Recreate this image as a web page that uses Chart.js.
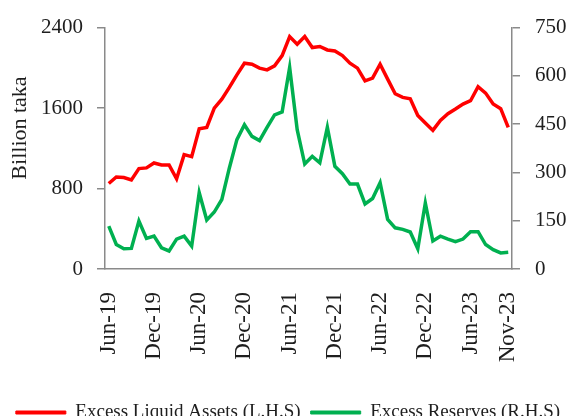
<!DOCTYPE html>
<html>
<head>
<meta charset="utf-8">
<script src="https://cdn.jsdelivr.net/npm/chart.js@4/dist/chart.umd.min.js"></script>
<style>
  html, body { margin: 0; padding: 0; background: #fff; overflow: hidden; }
  #wrap { width: 576px; height: 432px; }
</style>
</head>
<body>
<div id="wrap"><canvas id="liqChart"></canvas></div>
<script>
// months, Jun-19 .. Nov-23
const months = [
  'Jun-19','Jul-19','Aug-19','Sep-19','Oct-19','Nov-19','Dec-19','Jan-20','Feb-20','Mar-20','Apr-20','May-20',
  'Jun-20','Jul-20','Aug-20','Sep-20','Oct-20','Nov-20','Dec-20','Jan-21','Feb-21','Mar-21','Apr-21','May-21',
  'Jun-21','Jul-21','Aug-21','Sep-21','Oct-21','Nov-21','Dec-21','Jan-22','Feb-22','Mar-22','Apr-22','May-22',
  'Jun-22','Jul-22','Aug-22','Sep-22','Oct-22','Nov-22','Dec-22','Jan-23','Feb-23','Mar-23','Apr-23','May-23',
  'Jun-23','Jul-23','Aug-23','Sep-23','Oct-23','Nov-23'
];

// Excess liquid assets, billion taka (left axis)
const excessLiquid = [
  850, 915, 910, 886, 998, 1005, 1054, 1034, 1034, 896, 1137, 1117,
  1395, 1408, 1600, 1689, 1805, 1930, 2046, 2036, 1997, 1980, 2020, 2122,
  2311, 2235, 2311, 2202, 2212, 2178, 2168, 2122, 2046, 1997, 1871, 1898,
  2036, 1888, 1742, 1706, 1693, 1527, 1451, 1378, 1478, 1544, 1590, 1640,
  1673, 1812, 1749, 1640, 1594, 1408
];

// Excess reserves, billion taka (right axis)
const excessReserves = [
  133, 76, 63, 64, 149, 95, 102, 66, 56, 93, 102, 71,
  237, 152, 177, 216, 314, 402, 448, 412, 399, 440, 479, 488,
  626, 433, 326, 350, 330, 440, 319, 296, 264, 264, 202, 219,
  268, 154, 128, 123, 115, 63, 205, 87, 102, 93, 85, 93,
  116, 116, 76, 60, 50, 52
];

const leftTicks = [0, 800, 1600, 2400];
const rightTicks = [0, 150, 300, 450, 600, 750];

const axisGray = '#8a8a8a';
const textCol = '#1e1e1e';
const serif = "'Liberation Serif', 'DejaVu Serif', serif";

// y-axis title drawn by hand so it can sit a bit above centre
const yTitle = {
  id: 'yTitle',
  afterDraw(chart) {
    const c = chart.ctx;
    c.save();
    c.translate(20, 128);
    c.rotate(-Math.PI / 2);
    c.font = '22px ' + serif;
    c.fillStyle = textCol;
    c.textAlign = 'center';
    c.textBaseline = 'middle';
    c.fillText('Billion taka', 0, 0);
    c.restore();
  }
};

new Chart(document.getElementById('liqChart'), {
  type: 'line',
  data: {
    labels: months,
    datasets: [
      {
        label: 'Excess Liquid Assets (L.H.S)',
        data: excessLiquid,
        yAxisID: 'y',
        borderColor: '#ff0000',
        backgroundColor: '#ff0000',
        borderWidth: 3.5,
        pointRadius: 0,
        tension: 0
      },
      {
        label: 'Excess Reserves (R.H.S)',
        data: excessReserves,
        yAxisID: 'y2',
        borderColor: '#00b050',
        backgroundColor: '#00b050',
        borderWidth: 3.5,
        pointRadius: 0,
        tension: 0
      }
    ]
  },
  options: {
    responsive: true,
    maintainAspectRatio: false,
    animation: false,
    layout: { padding: { top: 26, left: 0, right: 0, bottom: 0 } },
    plugins: {
      tooltip: { enabled: false },
      legend: {
        position: 'bottom',
        labels: {
          boxWidth: 50,
          boxHeight: 3,
          padding: 10,
          color: textCol,
          font: { family: serif, size: 19 },
          generateLabels(chart) {
            const items = Chart.defaults.plugins.legend.labels.generateLabels(chart);
            items.forEach(it => { it.lineWidth = 1; it.strokeStyle = it.fillStyle; });
            return items;
          }
        }
      }
    },
    scales: {
      x: {
        offset: true,
        grid: { display: false },
        border: { display: true, color: axisGray, width: 1.5 },
        ticks: {
          autoSkip: false,
          minRotation: 90,
          maxRotation: 90,
          padding: 15,
          color: textCol,
          font: { family: serif, size: 23 },
          callback(v, i) {
            return (i % 6 === 0 || i === months.length - 1) ? months[i] : '';
          }
        },
        afterFit(s) { s.height = 124; }
      },
      y: {
        position: 'left',
        min: 0,
        max: 2400,
        afterBuildTicks(s) { s.ticks = leftTicks.map(v => ({ value: v })); },
        grid: { drawOnChartArea: false, tickLength: 8, color: axisGray, lineWidth: 1.5 },
        border: { display: true, color: axisGray, width: 1.5 },
        ticks: {
          padding: 14, color: textCol, font: { family: serif, size: 21 },
          callback: v => String(v)
        },
        afterFit(s) { s.width = 105; }
      },
      y2: {
        position: 'right',
        min: 0,
        max: 750,
        afterBuildTicks(s) { s.ticks = rightTicks.map(v => ({ value: v })); },
        grid: { drawOnChartArea: false, tickLength: 8, color: axisGray, lineWidth: 1.5 },
        border: { display: true, color: axisGray, width: 1.5 },
        ticks: {
          padding: 15, color: textCol, font: { family: serif, size: 21 },
          callback: v => String(v)
        },
        afterFit(s) { s.width = 64; }
      }
    }
  },
  plugins: [yTitle]
});
</script>
</body>
</html>
